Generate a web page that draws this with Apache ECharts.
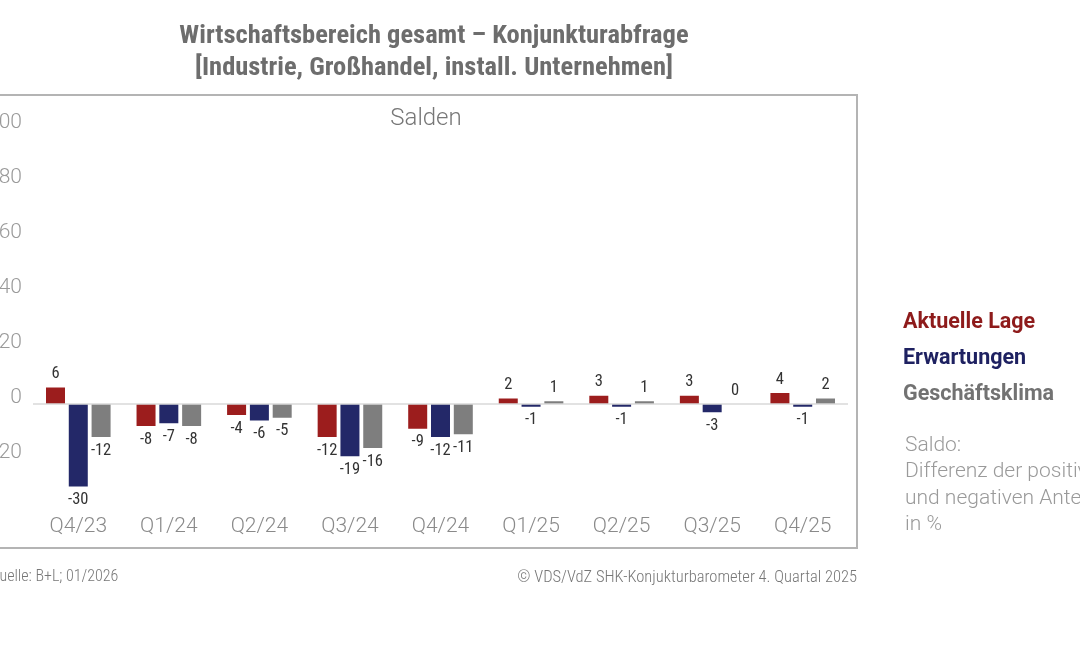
<!DOCTYPE html>
<html>
<head>
<meta charset="utf-8">
<script src="https://cdn.jsdelivr.net/npm/echarts@6/dist/echarts.min.js"></script>
<style>
html,body{margin:0;padding:0;background:#fff;}
#c{width:1080px;height:656px;}
</style>
</head>
<body>
<div id="c"></div>
<script>
const categories = ['Q4/23','Q1/24','Q2/24','Q3/24','Q4/24','Q1/25','Q2/25','Q3/25','Q4/25'];
const aktuelleLage = [6, -8, -4, -12, -9, 2, 3, 3, 4];
const erwartungen = [-30, -7, -6, -19, -12, -1, -1, -3, -1];
const geschaeftsklima = [-12, -8, -5, -16, -11, 1, 1, 0, 2];
const yTicks = {min: -40, max: 100, interval: 20};

const condensed = "'Roboto Condensed','Liberation Sans Narrow','DejaVu Sans Condensed',Roboto,sans-serif";

function mk(arr){
  return arr.map(v => ({value: v, label: {position: v < 0 ? 'bottom' : 'top'}}));
}

const chart = echarts.init(document.getElementById('c'), null, {renderer: 'canvas'});

const labelCfg = {show: true, distance: 5, color: '#333', fontFamily: condensed, fontSize: 16.5};

const option = {
  backgroundColor: '#fff',
  animation: false,
  title: [
    {
      text: 'Wirtschaftsbereich gesamt – Konjunkturabfrage\n[Industrie, Großhandel, install. Unternehmen]',
      left: 429, top: 15, textAlign: 'center',
      textStyle: {fontFamily: condensed, fontWeight: 'bold', fontSize: 26.5, lineHeight: 32, color: '#6d6d6d'}
    },
    {
      text: 'Salden', left: 421, top: 102, textAlign: 'center',
      textStyle: {fontFamily: 'Roboto', fontWeight: 300, fontSize: 24, color: '#777'}
    }
  ],
  legend: {
    orient: 'vertical', left: 893, top: 307, itemGap: 14, itemWidth: 0, itemHeight: 0,
    icon: 'rect', selectedMode: false,
    textStyle: {fontFamily: 'Roboto', fontWeight: 'bold', fontSize: 21.5, lineHeight: 21.5},
    data: [
      {name: 'Aktuelle Lage', textStyle: {color: '#8e1b1b'}},
      {name: 'Erwartungen', textStyle: {color: '#1e2161'}},
      {name: 'Geschäftsklima', textStyle: {color: '#727272'}}
    ]
  },
  grid: {left: 33, right: 232, top: 129, bottom: 142, outerBoundsMode: 'none', containLabel: false},
  xAxis: {
    type: 'category', data: categories,
    axisLine: {show: false, onZero: false}, axisTick: {show: false},
    axisLabel: {color: '#8a8a8a', fontFamily: 'Roboto', fontWeight: 300, fontSize: 21, margin: 2}
  },
  yAxis: {
    type: 'value', min: yTicks.min, max: yTicks.max, interval: yTicks.interval,
    axisLine: {show: false}, axisTick: {show: false}, splitLine: {show: false},
    axisLabel: {showMinLabel: false, color: '#9a9a9a', fontFamily: 'Roboto', fontWeight: 300, fontSize: 21, margin: 11, verticalAlign: 'bottom', lineHeight: 12}
  },
  graphic: [
    {type: 'rect', z: -1, shape: {x: -10, y: 95, width: 867, height: 453},
     style: {fill: 'none', stroke: '#b4b4b4', lineWidth: 2}},
    {type: 'text', left: 905, top: 432,
     style: {text: 'Saldo:\nDifferenz der positiven\nund negativen Anteile\nin %', fill: '#9a9a9a',
       font: '300 21px Roboto', lineHeight: 26.5}},
    {type: 'text', left: -10, top: 569,
     style: {text: 'Quelle: B+L; 01/2026', fill: '#777', font: '300 16px ' + condensed}},
    {type: 'text', right: 223, top: 569,
     style: {text: '© VDS/VdZ SHK-Konjukturbarometer 4. Quartal 2025', fill: '#777', font: '300 16.5px ' + condensed, textAlign: 'right'}}
  ],
  series: [
    {name: 'Aktuelle Lage', type: 'bar', data: mk(aktuelleLage), barWidth: 19, barGap: '20%',
     itemStyle: {color: '#9c1d1d'}, label: labelCfg,
     markLine: {silent: true, symbol: 'none', label: {show: false}, animation: false,
       lineStyle: {color: '#d9d9d9', type: 'solid', width: 1.5}, data: [{yAxis: 0}]}, z: 3},
    {name: 'Erwartungen', type: 'bar', data: mk(erwartungen), barWidth: 19, barGap: '20%',
     itemStyle: {color: '#232868'}, label: labelCfg, z: 3},
    {name: 'Geschäftsklima', type: 'bar', data: mk(geschaeftsklima), barWidth: 19, barGap: '20%',
     itemStyle: {color: '#7e7e7e'}, label: labelCfg, z: 3}
  ]
};
chart.setOption(option);
</script>
</body>
</html>
